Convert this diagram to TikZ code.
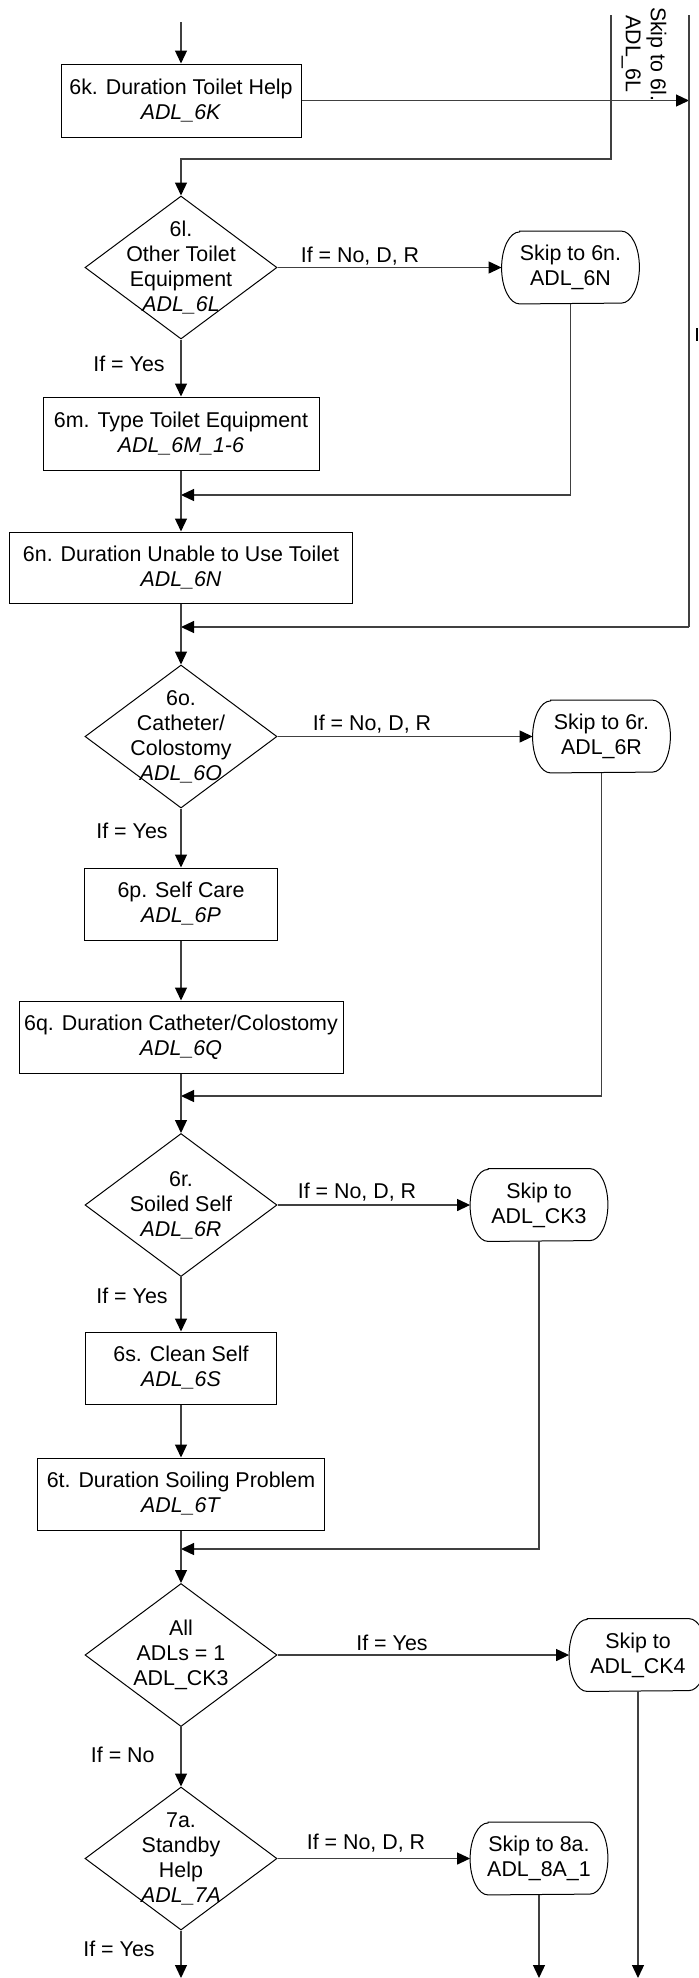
\documentclass[tikz,border=0pt]{standalone}
\usepackage{fontspec}
\setmainfont{Liberation Sans}
\usetikzlibrary{shapes.geometric,arrows.meta}
\newcommand\skipshape[1]{\draw[line width=0.5pt] ([xshift=9pt]#1.north west) -- ([xshift=-9pt]#1.north east) arc[start angle=90,end angle=-90,x radius=9pt,y radius=18pt] -- ([xshift=9pt]#1.south west) arc[start angle=270,end angle=90,x radius=9pt,y radius=18pt] -- cycle;}
\begin{document}
\begin{tikzpicture}[x=0.5pt,y=0.5pt,
  font=\fontsize{10.7pt}{12.5pt}\selectfont,
  box/.style={draw=black, line width=0.5pt, align=center, inner sep=0pt},
  dia/.style={draw=black, line width=0.5pt, shape=diamond, inner sep=0pt, minimum width=96pt, minimum height=71.5pt},
  dtxt/.style={align=center, inner sep=0pt},
  skipn/.style={align=center, inner sep=0pt, minimum width=68.5pt, minimum height=36pt},
  conn/.style={draw=black!75, line width=0.6pt},
  arr/.style={conn, -{Triangle[length=6.5pt,width=6pt,color=black]}},
  lbl/.style={inner sep=0pt},
]
\useasboundingbox (0,0) rectangle (698,-1978);

% 6k
\coordinate (top) at (181,-22);
\node[box, minimum width=120pt, minimum height=36.5pt] (n6k) at (181,-100.5) {6k. Duration Toilet Help\\\textit{ADL\_6K}};
\draw[arr] (top) -- (n6k);
\coordinate (r1) at (689,-100.5);
\draw[arr] (n6k.east) -- (r1);
\coordinate (rtop) at (689,-15);
\coordinate (rbot) at (689,-627);
\coordinate (m2) at (181,-627);
\draw[conn] (rtop) -- (rbot);
\draw[arr] (rbot) -- (m2);
\coordinate (vtop) at (611,-15);
\coordinate (vbend) at (611,-159);
\node[rotate=-90, align=center, inner sep=0pt] (rot) at (644,-54) {Skip to 6l.\\ADL\_6L};
\draw[line width=0.6pt] (697,-328) -- (697,-341);

% 6l
\node[dia] (d6l) at (181,-267.5) {};
\draw[arr] (vtop) -- (vbend) -| (d6l.north);
\node[dtxt] (t6l) at (d6l) {6l.\\Other Toilet\\Equipment\\\textit{ADL\_6L}};
\node[skipn] (s6n) at (570.5,-267.5) {Skip to 6n.\\ADL\_6N}; \skipshape{s6n}
\draw[arr] (d6l.east) -- (s6n.west);
\node[lbl, anchor=base] (l6l) at (360,-262.7) {If = No, D, R};
\node[lbl, anchor=base east] (y6l) at (165,-371.7) {If = Yes};

% 6m, 6n
\node[box, minimum width=138pt, minimum height=36.5pt] (n6m) at (181,-433.5) {6m. Type Toilet Equipment\\\textit{ADL\_6M\_1-6}};
\draw[arr] (d6l.south) -- (n6m.north);
\coordinate (m1) at (181,-495);
\draw[arr] (s6n.south) |- (m1);
\node[box, minimum width=171.5pt, minimum height=35.5pt] (n6n) at (181,-567.5) {6n. Duration Unable to Use Toilet\\\textit{ADL\_6N}};
\draw[arr] (n6m.south) -- (n6n.north);

% 6o
\node[dia] (d6o) at (181,-736.5) {};
\draw[arr] (n6n.south) -- (d6o.north);
\node[dtxt] (t6o) at (d6o) {6o.\\Catheter/\\Colostomy\\\textit{ADL\_6O}};
\node[skipn] (s6r) at (601.5,-736.5) {Skip to 6r.\\ADL\_6R}; \skipshape{s6r}
\draw[arr] (d6o.east) -- (s6r.west);
\node[lbl, anchor=base] (l6o) at (372,-730.7) {If = No, D, R};
\node[lbl, anchor=base east] (y6o) at (168,-838.7) {If = Yes};

% 6p, 6q
\node[box, minimum width=96.5pt, minimum height=36pt] (n6p) at (181,-904) {6p. Self Care\\\textit{ADL\_6P}};
\draw[arr] (d6o.south) -- (n6p.north);
\node[box, minimum width=162pt, minimum height=36pt] (n6q) at (181,-1037) {6q. Duration Catheter/Colostomy\\\textit{ADL\_6Q}};
\draw[arr] (n6p.south) -- (n6q.north);
\coordinate (m3) at (181,-1096);
\draw[arr] (s6r.south) |- (m3);

% 6r
\node[dia] (d6r) at (181,-1205) {};
\draw[arr] (n6q.south) -- (d6r.north);
\node[dtxt] (t6r) at (d6r) {6r.\\Soiled Self\\\textit{ADL\_6R}};
\node[skipn] (sck3) at (539,-1205) {Skip to\\ADL\_CK3}; \skipshape{sck3}
\draw[arr] (d6r.east) -- (sck3.west);
\node[lbl, anchor=base] (l6r) at (357,-1198.7) {If = No, D, R};
\node[lbl, anchor=base east] (y6r) at (168,-1303.7) {If = Yes};

% 6s, 6t
\node[box, minimum width=95.5pt, minimum height=36pt] (n6s) at (181,-1368) {6s. Clean Self\\\textit{ADL\_6S}};
\draw[arr] (d6r.south) -- (n6s.north);
\node[box, minimum width=143.5pt, minimum height=36pt] (n6t) at (181,-1494) {6t. Duration Soiling Problem\\\textit{ADL\_6T}};
\draw[arr] (n6s.south) -- (n6t.north);
\coordinate (m4) at (181,-1549);
\draw[arr] (sck3.south) |- (m4);

% CK3
\node[dia] (dck3) at (181,-1655) {};
\draw[arr] (n6t.south) -- (dck3.north);
\node[dtxt] (tck3) at (dck3) {All\\ADLs = 1\\ADL\_CK3};
\node[skipn] (sck4) at (638,-1655) {Skip to\\ADL\_CK4}; \skipshape{sck4}
\draw[arr] (dck3.east) -- (sck4.west);
\node[lbl, anchor=base] (lck3) at (392,-1650.7) {If = Yes};
\node[lbl, anchor=base east] (nck3) at (155,-1762.7) {If = No};

% 7a
\node[dia] (d7a) at (181,-1858.5) {};
\draw[arr] (dck3.south) -- (d7a.north);
\node[dtxt] (t7a) at (d7a) {7a.\\Standby\\Help\\\textit{ADL\_7A}};
\node[skipn] (s8a) at (539,-1858.5) {Skip to 8a.\\ADL\_8A\_1}; \skipshape{s8a}
\draw[arr] (d7a.east) -- (s8a.west);
\node[lbl, anchor=base] (l7a) at (366,-1849.7) {If = No, D, R};
\node[lbl, anchor=base east] (y7a) at (155,-1956.7) {If = Yes};

\coordinate (e1) at (181,-1978);
\coordinate (e2) at (539,-1978);
\coordinate (e3) at (638,-1978);
\draw[arr] (d7a.south) -- (e1);
\draw[arr] (s8a.south) -- (e2);
\draw[arr] (sck4.south) -- (e3);
\end{tikzpicture}
\end{document}
